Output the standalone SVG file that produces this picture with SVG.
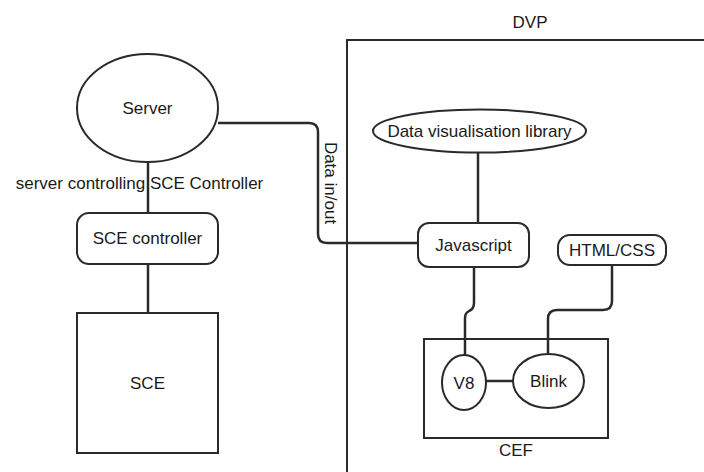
<svg xmlns="http://www.w3.org/2000/svg" width="704" height="472" viewBox="0 0 704 472">
<style>
.n{fill:#fff;stroke:#2a2a2a;stroke-width:2}
.f{fill:none;stroke:#2a2a2a;stroke-width:2}
.c{fill:none;stroke:#2a2a2a;stroke-width:2.5;stroke-linejoin:round}
.t{font-family:"Liberation Sans",Arial,sans-serif;font-size:17px;fill:#1a1a1a;text-anchor:middle}
</style>
<rect width="704" height="472" fill="#fff"/>
<g id="dvp">
<rect class="f" x="347" y="40" width="370" height="450"/>
<text class="t" x="530" y="28">DVP</text>
</g>
<g id="cef">
<rect class="f" x="424" y="339" width="184" height="99"/>
<text class="t" x="516" y="456">CEF</text>
</g>
<g id="connectors">
<path class="c" d="M148,162 V213"/>
<path class="c" d="M148,264 V313"/>
<path class="c" d="M218,123 H309 Q318,123 318,132 V234 Q318,243 327,243 H418"/>
<path class="c" d="M478,152 V223"/>
<path class="c" d="M474,267 V303 Q474,309 469,311 Q465,313 465,318 V355"/>
<path class="c" d="M612,265 V301 Q612,310 603,310 H557 Q548,310 548,319 V354"/>
<path class="c" d="M486,381 H513"/>
</g>
<g id="label-control">
<text class="t" x="139.5" y="189">server controlling SCE Controller</text>
</g>
<g id="label-data">
<text class="t" transform="translate(331,183) rotate(90)" x="0" y="6">Data in/out</text>
</g>
<g id="server">
<ellipse class="n" cx="147.5" cy="108" rx="70.5" ry="54"/>
<text class="t" x="147.5" y="114">Server</text>
</g>
<g id="sce-controller">
<rect class="n" x="77" y="213" width="141" height="51" rx="12"/>
<text class="t" x="147.5" y="244">SCE controller</text>
</g>
<g id="sce">
<rect class="n" x="77" y="313" width="141" height="140"/>
<text class="t" x="147.5" y="389">SCE</text>
</g>
<g id="dvl">
<ellipse class="n" cx="479.5" cy="131" rx="106.5" ry="21.5"/>
<text class="t" x="479.5" y="137">Data visualisation library</text>
</g>
<g id="javascript">
<rect class="n" x="418" y="223" width="111" height="44" rx="11"/>
<text class="t" x="473.5" y="251">Javascript</text>
</g>
<g id="htmlcss">
<rect class="n" x="558" y="235" width="108" height="30" rx="12"/>
<text class="t" x="612" y="256">HTML/CSS</text>
</g>
<g id="v8">
<ellipse class="n" cx="464" cy="382.5" rx="22" ry="27.5"/>
<text class="t" x="464" y="389">V8</text>
</g>
<g id="blink">
<ellipse class="n" cx="548.5" cy="381" rx="35.5" ry="27"/>
<text class="t" x="548.5" y="387">Blink</text>
</g>
</svg>
